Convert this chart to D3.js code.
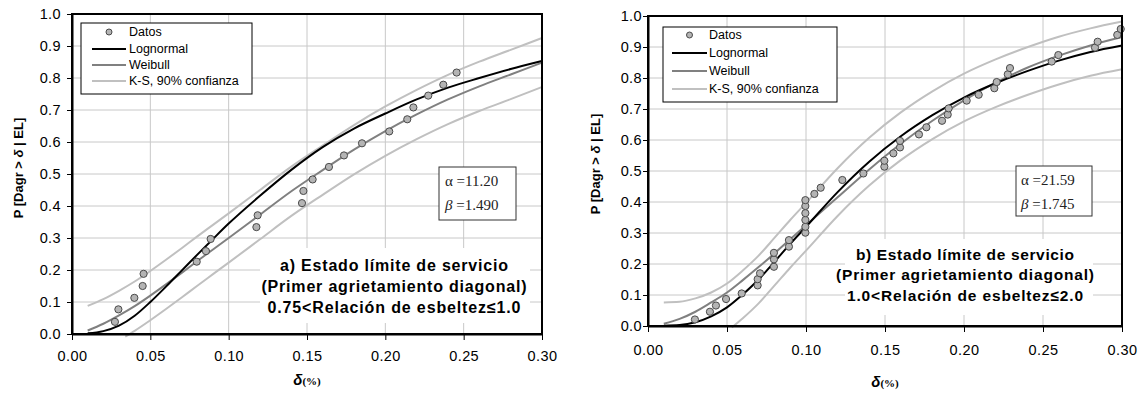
<!DOCTYPE html>
<html>
<head>
<meta charset="utf-8">
<script src="https://cdn.jsdelivr.net/npm/d3@7"></script>
<style>
  body { margin: 0; background: #fff; }
  svg { display: block; }
</style>
</head>
<body>
<svg id="chart" width="1143" height="394"></svg>
<script>
// ---------- shared axis values ----------
const xTickValues = [0, 0.05, 0.10, 0.15, 0.20, 0.25, 0.30];
const yTickValues = [0, 0.1, 0.2, 0.3, 0.4, 0.5, 0.6, 0.7, 0.8, 0.9, 1.0];
const legendLabels = ["Datos", "Lognormal", "Weibull", "K-S, 90% confianza"];

// abscissae at which the fitted curves are tabulated
const fitX = [0.01, 0.02, 0.03, 0.04, 0.05, 0.06, 0.07, 0.08, 0.09, 0.10,
              0.12, 0.14, 0.16, 0.18, 0.20, 0.22, 0.24, 0.26, 0.28, 0.30];

// ---------- panel a) 0.75 < esbeltez <= 1.0 ----------
const aDataX = [0.0274, 0.0296, 0.0398, 0.0451, 0.0457, 0.0796, 0.0855, 0.0885, 0.1177, 0.1185, 0.1468,
                0.1477, 0.1536, 0.1640, 0.1736, 0.1851, 0.2025, 0.2140, 0.2179, 0.2274, 0.2370, 0.2455];
const aDataY = [0.038, 0.077, 0.113, 0.150, 0.188, 0.226, 0.259, 0.297, 0.334, 0.371, 0.409,
                0.447, 0.483, 0.522, 0.558, 0.596, 0.633, 0.671, 0.708, 0.745, 0.779, 0.817];
const aLognormal = [0.002, 0.009, 0.026, 0.057, 0.100, 0.148, 0.198, 0.248, 0.297, 0.345,
                    0.432, 0.513, 0.584, 0.642, 0.689, 0.733, 0.770, 0.800, 0.828, 0.853];
const aWeibull = [0.011, 0.032, 0.058, 0.087, 0.120, 0.155, 0.191, 0.228, 0.264, 0.300,
                  0.373, 0.446, 0.512, 0.576, 0.634, 0.686, 0.733, 0.774, 0.811, 0.848];
const aKSUpper = [0.088, 0.109, 0.135, 0.164, 0.197, 0.232, 0.268, 0.305, 0.341, 0.377,
                  0.450, 0.523, 0.589, 0.653, 0.711, 0.763, 0.810, 0.851, 0.888, 0.925];
const aKSLowerX = [0.034, 0.04, 0.05, 0.06, 0.07, 0.08, 0.09, 0.10, 0.12, 0.14, 0.16, 0.18, 0.20, 0.22, 0.24, 0.26, 0.28, 0.30];
const aKSLower = [-0.008, 0.010, 0.043, 0.078, 0.114, 0.151, 0.187, 0.223, 0.296, 0.369, 0.435, 0.499,
                  0.557, 0.609, 0.656, 0.697, 0.734, 0.772];

// ---------- panel b) 1.0 < esbeltez <= 2.0 ----------
const bDataX = [0.0297, 0.0392, 0.0430, 0.0494, 0.0593, 0.0694, 0.0694, 0.0709, 0.0797, 0.0797, 0.0797,
                0.0892, 0.0892, 0.0996, 0.0996, 0.0996, 0.0996, 0.0996, 0.0996, 0.1053, 0.1093, 0.1230,
                0.1363, 0.1496, 0.1496, 0.1553, 0.1595, 0.1595, 0.1715, 0.1762, 0.1861, 0.1897, 0.1903,
                0.2017, 0.2093, 0.2192, 0.2207, 0.2277, 0.2291, 0.2555, 0.2597, 0.2829, 0.2846, 0.2970, 0.2992];
const bDataY = [0.021, 0.046, 0.066, 0.087, 0.105, 0.131, 0.151, 0.170, 0.191, 0.215, 0.236,
                0.256, 0.277, 0.301, 0.320, 0.342, 0.364, 0.387, 0.406, 0.426, 0.446, 0.471,
                0.492, 0.514, 0.533, 0.557, 0.576, 0.597, 0.618, 0.641, 0.662, 0.682, 0.702,
                0.727, 0.746, 0.767, 0.787, 0.812, 0.832, 0.853, 0.874, 0.898, 0.917, 0.939, 0.958];
const bLognormal = [0.001, 0.003, 0.012, 0.031, 0.060, 0.102, 0.150, 0.207, 0.265, 0.320,
                    0.432, 0.530, 0.612, 0.680, 0.737, 0.783, 0.822, 0.856, 0.884, 0.905];
const bWeibull = [0.007, 0.023, 0.046, 0.076, 0.108, 0.148, 0.190, 0.234, 0.280, 0.325,
                  0.415, 0.505, 0.588, 0.662, 0.728, 0.785, 0.833, 0.872, 0.905, 0.932];
const bKSUpper = [0.076, 0.078, 0.089, 0.108, 0.137, 0.179, 0.227, 0.284, 0.342, 0.397,
                  0.509, 0.607, 0.689, 0.757, 0.814, 0.860, 0.899, 0.933, 0.960, 0.982];
const bKSLowerX = [0.053, 0.06, 0.07, 0.08, 0.09, 0.10, 0.12, 0.14, 0.16, 0.18, 0.20, 0.22, 0.24, 0.26, 0.28, 0.30];
const bKSLower = [-0.005, 0.025, 0.073, 0.130, 0.188, 0.243, 0.355, 0.453, 0.535, 0.603, 0.660,
                  0.706, 0.745, 0.779, 0.807, 0.828];

// ---------- drawing ----------
const svg = d3.select("#chart");
svg.append("rect").attr("width", 1143).attr("height", 394).attr("fill", "#fff");

const SANS = "'Liberation Sans', Arial, sans-serif";
const SERIF = "'Liberation Serif', 'Times New Roman', serif";
const COLORS = { data: "#b4b4b4", lognormal: "#000000", weibull: "#808080", ks: "#c0c0c0", grid: "#c8c8c8" };

const panels = [
  {
    box: { left: 72, right: 542, top: 14, bottom: 334 },
    dataX: aDataX, dataY: aDataY, lognormal: aLognormal, weibull: aWeibull,
    ksUpper: aKSUpper, ksLowerX: aKSLowerX, ksLower: aKSLower,
    params: ["11.20", "1.490"],
    note: ["a) Estado límite de servicio", "(Primer agrietamiento diagonal)", "0.75<Relación de esbeltez≤1.0"],
    layout: {
      yTickPad: 5, xTickPad: 11, yLabelX: 18, yLabelCy: 168, xLabelY: 385,
      legend: { x: 81, y: 23, w: 171, h: 71, rowY: [32, 49, 65, 81], lineX: [92, 126], textX: 129 },
      paramBox: { x: 439, y: 167, w: 77, h: 53, textX: 445, rowY: [186, 210] },
      noteBg: { x: 260, y: 248, w: 270, h: 75 }, noteCx: 394, noteY: [271, 292, 313],
      noteWidth: [228, 265, 253], noteSize: 16
    }
  },
  {
    box: { left: 648, right: 1122, top: 16, bottom: 326 },
    dataX: bDataX, dataY: bDataY, lognormal: bLognormal, weibull: bWeibull,
    ksUpper: bKSUpper, ksLowerX: bKSLowerX, ksLower: bKSLower,
    params: ["21.59", "1.745"],
    note: ["b) Estado límite de servicio", "(Primer agrietamiento diagonal)", "1.0<Relación de esbeltez≤2.0"],
    layout: {
      yTickPad: 0, xTickPad: 13, yLabelX: 595, yLabelCy: 164, xLabelY: 387,
      legend: { x: 663, y: 27, w: 174, h: 75, rowY: [35, 53, 71, 89], lineX: [672, 707], textX: 709 },
      paramBox: { x: 1016, y: 166, w: 76, h: 50, textX: 1021, rowY: [185, 209] },
      noteBg: { x: 845, y: 239, w: 248, h: 76 }, noteCx: 965, noteY: [260, 280, 301],
      noteWidth: [218, 258, 236], noteSize: 15.5
    }
  }
];

function drawPanel(p) {
  const L = p.layout;
  const x = d3.scaleLinear().domain([0, 0.30]).range([p.box.left, p.box.right]);
  const y = d3.scaleLinear().domain([0, 1]).range([p.box.bottom, p.box.top]);
  const g = svg.append("g");

  // grid
  g.append("g").selectAll("line").data(yTickValues.slice(1, -1)).join("line")
    .attr("x1", p.box.left).attr("x2", p.box.right)
    .attr("y1", d => y(d)).attr("y2", d => y(d))
    .attr("stroke", COLORS.grid).attr("stroke-width", 1);
  g.append("g").selectAll("line").data(xTickValues.slice(1, -1)).join("line")
    .attr("y1", p.box.top).attr("y2", p.box.bottom)
    .attr("x1", d => x(d)).attr("x2", d => x(d))
    .attr("stroke", COLORS.grid).attr("stroke-width", 1);

  // white backing for the panel caption
  g.append("rect").attr("x", L.noteBg.x).attr("y", L.noteBg.y)
    .attr("width", L.noteBg.w).attr("height", L.noteBg.h).attr("fill", "#fff");

  // curves
  const line = d3.line().x(d => x(d[0])).y(d => y(d[1])).curve(d3.curveMonotoneX);
  const curves = [
    { xs: fitX, ys: p.ksUpper, color: COLORS.ks },
    { xs: p.ksLowerX, ys: p.ksLower, color: COLORS.ks },
    { xs: fitX, ys: p.weibull, color: COLORS.weibull },
    { xs: fitX, ys: p.lognormal, color: COLORS.lognormal }
  ];
  curves.forEach(c => {
    g.append("path").attr("d", line(c.xs.map((v, i) => [v, c.ys[i]])))
      .attr("fill", "none").attr("stroke", c.color).attr("stroke-width", 2)
      .attr("stroke-linejoin", "round");
  });

  // observed points
  g.append("g").selectAll("circle").data(p.dataX.map((v, i) => [v, p.dataY[i]])).join("circle")
    .attr("cx", d => x(d[0])).attr("cy", d => y(d[1])).attr("r", 3.6)
    .attr("fill", COLORS.data).attr("stroke", "#4a4a4a").attr("stroke-width", 1);

  // frame (top and right edges)
  g.append("rect").attr("x", p.box.left).attr("y", p.box.top)
    .attr("width", p.box.right - p.box.left).attr("height", p.box.bottom - p.box.top)
    .attr("fill", "none").attr("stroke", "#000").attr("stroke-width", 2);

  // axes
  const yAxis = d3.axisLeft(y).tickValues(yTickValues).tickFormat(d3.format(".1f"))
    .tickSizeInner(5).tickSizeOuter(0).tickPadding(L.yTickPad + 1);
  const xAxis = d3.axisBottom(x).tickValues(xTickValues).tickFormat(d3.format(".2f"))
    .tickSizeInner(6).tickSizeOuter(0).tickPadding(L.xTickPad);
  const ya = g.append("g").attr("transform", `translate(${p.box.left},0)`).call(yAxis);
  const xa = g.append("g").attr("transform", `translate(0,${p.box.bottom})`).call(xAxis);
  [ya, xa].forEach(a => {
    a.select(".domain").attr("stroke", "#000").attr("stroke-width", 2);
    a.selectAll(".tick line").attr("stroke", "#000").attr("stroke-width", 1);
    a.selectAll(".tick text").attr("fill", "#000")
      .style("font-family", SANS).style("font-size", "14.5px").style("letter-spacing", "0.4px");
  });

  // axis titles
  const yl = g.append("text")
    .attr("transform", `translate(${L.yLabelX},${L.yLabelCy}) rotate(-90)`)
    .attr("text-anchor", "middle").attr("dy", "0.35em")
    .style("font-family", SANS).style("font-size", "13px").style("font-weight", "bold");
  yl.append("tspan").text("P [Dagr > ");
  yl.append("tspan").style("font-style", "italic").text("δ");
  yl.append("tspan").text(" | EL]");

  const xl = g.append("text").attr("x", (p.box.left + p.box.right) / 2).attr("y", L.xLabelY)
    .attr("text-anchor", "middle");
  xl.append("tspan").style("font-family", SANS).style("font-size", "15px")
    .style("font-weight", "bold").style("font-style", "italic").text("δ");
  xl.append("tspan").style("font-family", SERIF).style("font-size", "11px")
    .style("font-weight", "bold").text("(%)");

  // legend
  const lg = L.legend;
  g.append("rect").attr("x", lg.x).attr("y", lg.y).attr("width", lg.w).attr("height", lg.h)
    .attr("fill", "#fff").attr("stroke", "#000").attr("stroke-width", 1);
  const legendStyles = [
    { kind: "dot" },
    { kind: "line", color: COLORS.lognormal },
    { kind: "line", color: COLORS.weibull },
    { kind: "line", color: COLORS.ks }
  ];
  legendLabels.forEach((label, i) => {
    const ry = lg.rowY[i];
    const st = legendStyles[i];
    if (st.kind === "dot") {
      g.append("circle").attr("cx", (lg.lineX[0] + lg.lineX[1]) / 2).attr("cy", ry).attr("r", 3)
        .attr("fill", COLORS.data).attr("stroke", "#4a4a4a").attr("stroke-width", 1);
    } else {
      g.append("line").attr("x1", lg.lineX[0]).attr("x2", lg.lineX[1]).attr("y1", ry).attr("y2", ry)
        .attr("stroke", st.color).attr("stroke-width", 2);
    }
    g.append("text").attr("x", lg.textX).attr("y", ry).attr("dy", "0.35em").text(label)
      .style("font-family", SANS).style("font-size", "12.5px").attr("fill", "#000");
  });

  // parameter box
  const pb = L.paramBox;
  g.append("rect").attr("x", pb.x).attr("y", pb.y).attr("width", pb.w).attr("height", pb.h)
    .attr("fill", "#fff").attr("stroke", "#333").attr("stroke-width", 1);
  [["α", p.params[0], "normal"], ["β", p.params[1], "italic"]].forEach((row, i) => {
    const t = g.append("text").attr("x", pb.textX).attr("y", pb.rowY[i])
      .style("font-family", SERIF).style("font-size", "15px").attr("fill", "#222");
    t.append("tspan").style("font-style", row[2]).text(row[0]);
    t.append("tspan").text(" =" + row[1]);
  });

  // caption
  p.note.forEach((txt, i) => {
    g.append("text").attr("x", L.noteCx).attr("y", L.noteY[i]).attr("text-anchor", "middle")
      .attr("textLength", L.noteWidth[i]).attr("lengthAdjust", "spacing")
      .style("font-family", SANS).style("font-size", L.noteSize + "px").style("font-weight", "bold")
      .text(txt);
  });
}

panels.forEach(drawPanel);
</script>
</body>
</html>
